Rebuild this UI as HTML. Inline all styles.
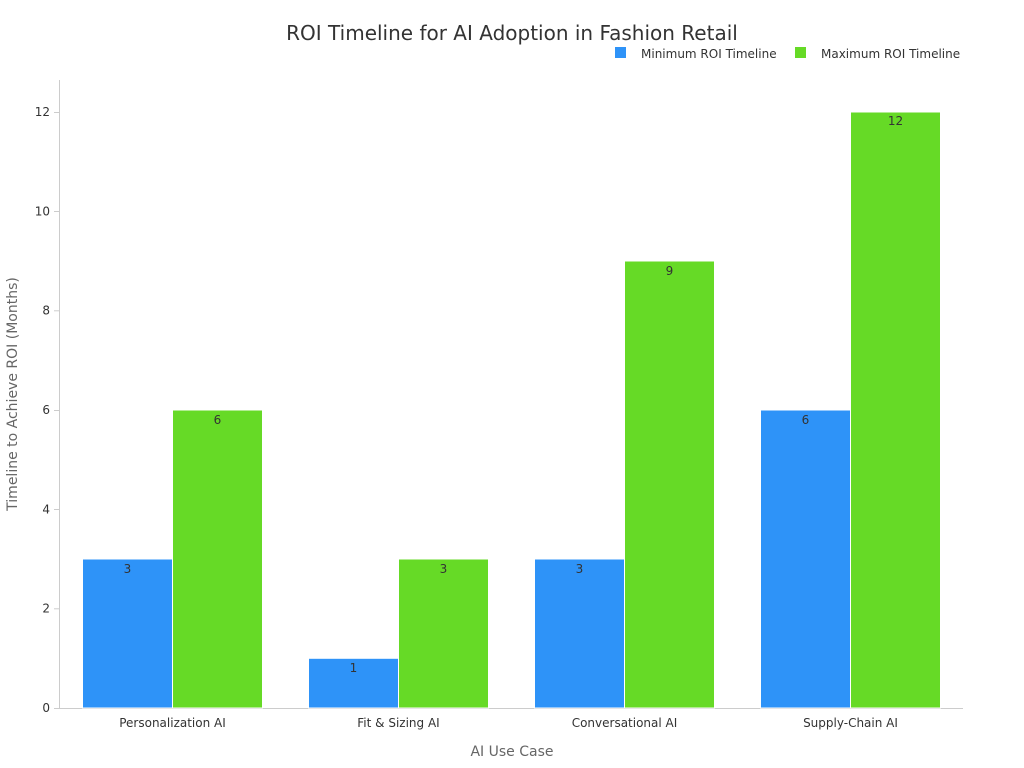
<!DOCTYPE html>
<html><head><meta charset="utf-8"><style>body{margin:0;background:#fff}svg{display:block}text{font-family:"DejaVu Sans","Liberation Sans",sans-serif}</style></head><body>
<svg width="1024" height="768" viewBox="0 0 1024 768">
<text x="512" y="40" font-size="20" fill="#333" text-anchor="middle">ROI Timeline for AI Adoption in Fashion Retail</text>
<rect x="615" y="47" width="11" height="11" fill="#2E93F8"/>
<text x="641" y="58" font-size="12" fill="#333">Minimum ROI Timeline</text>
<rect x="795" y="47" width="11" height="11" fill="#66DA26"/>
<text x="821" y="58" font-size="12" fill="#333">Maximum ROI Timeline</text>
<line x1="59.5" y1="80" x2="59.5" y2="708" stroke="#ccc"/>
<line x1="59" y1="708.5" x2="963" y2="708.5" stroke="#ccc"/>
<g font-size="12" fill="#333" text-anchor="end">
<text x="50" y="712">0</text><text x="50" y="612.7">2</text><text x="50" y="513.3">4</text><text x="50" y="414">6</text><text x="50" y="314.7">8</text><text x="50" y="215.3">10</text><text x="50" y="116">12</text>
</g>
<g stroke="#ccc"><line x1="54" x2="59" y1="708.5" y2="708.5"/><line x1="54" x2="59" y1="608.8" y2="608.8"/><line x1="54" x2="59" y1="509.5" y2="509.5"/><line x1="54" x2="59" y1="410.5" y2="410.5"/><line x1="54" x2="59" y1="310.8" y2="310.8"/><line x1="54" x2="59" y1="211.5" y2="211.5"/><line x1="54" x2="59" y1="112.5" y2="112.5"/></g>
<g stroke="#fff" stroke-width="1">
<rect x="82.5" y="559" width="90" height="149" fill="#2E93F8"/>
<rect x="172.5" y="410" width="90" height="298" fill="#66DA26"/>
<rect x="308.5" y="658.3" width="90" height="49.7" fill="#2E93F8"/>
<rect x="398.5" y="559" width="90" height="149" fill="#66DA26"/>
<rect x="534.5" y="559" width="90" height="149" fill="#2E93F8"/>
<rect x="624.5" y="261" width="90" height="447" fill="#66DA26"/>
<rect x="760.5" y="410" width="90" height="298" fill="#2E93F8"/>
<rect x="850.5" y="112" width="90" height="596" fill="#66DA26"/>
</g>
<g font-size="12" fill="#333" text-anchor="middle">
<text x="127.5" y="573">3</text><text x="217.5" y="424">6</text>
<text x="353.5" y="672">1</text><text x="443.5" y="573">3</text>
<text x="579.5" y="573">3</text><text x="669.5" y="275">9</text>
<text x="805.5" y="424">6</text><text x="895.5" y="125">12</text>
<text x="172.5" y="727">Personalization AI</text>
<text x="398.5" y="727">Fit &amp; Sizing AI</text>
<text x="624.5" y="727">Conversational AI</text>
<text x="850.5" y="727">Supply-Chain AI</text>
</g>
<text x="512" y="756" font-size="14" fill="#666" text-anchor="middle">AI Use Case</text>
<text transform="translate(17,394) rotate(-90)" font-size="14" fill="#666" text-anchor="middle">Timeline to Achieve ROI (Months)</text>
</svg>
</body></html>
